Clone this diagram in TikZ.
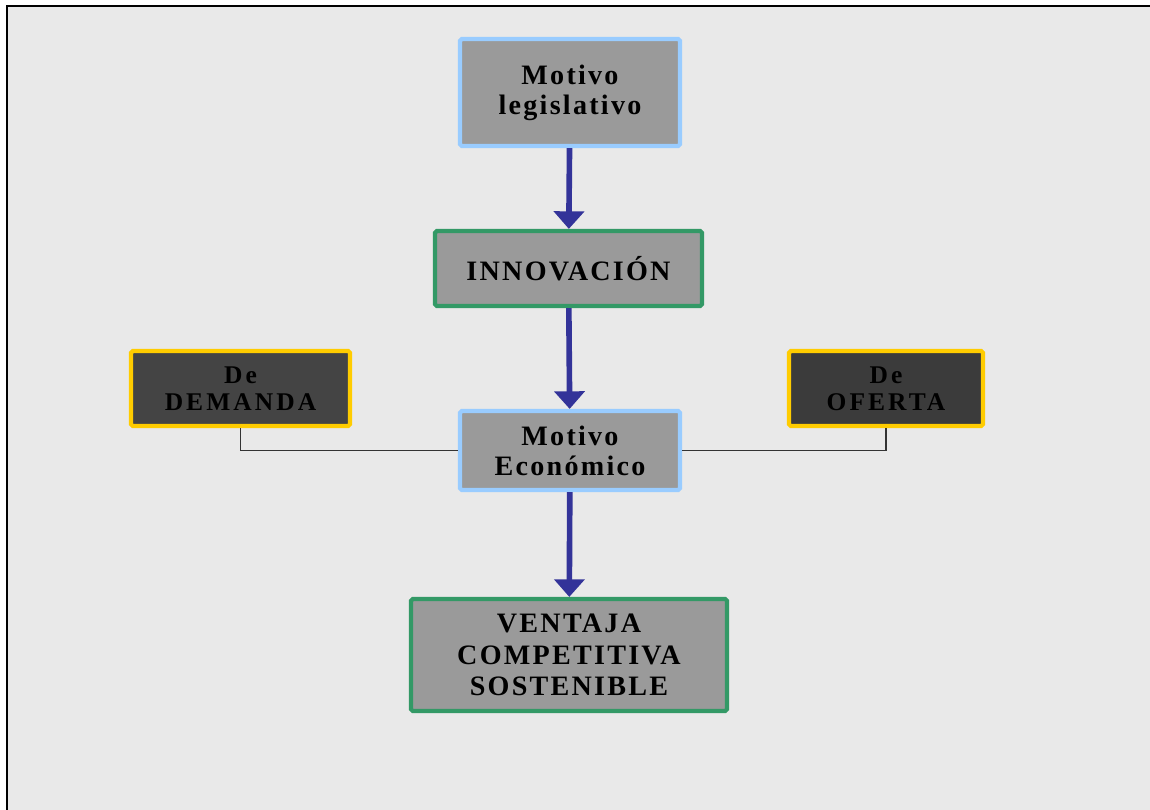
\documentclass[tikz,border=0pt]{standalone}
\usepackage{fontspec}
\setmainfont{Liberation Serif}
\newfontfamily\boxfont[LetterSpace=8]{Liberation Serif}
\newfontfamily\darkfont[LetterSpace=12]{Liberation Serif}
\definecolor{mBack}{HTML}{E9E9E9}
\definecolor{mGray}{HTML}{9A9A9A}
\definecolor{mDark}{HTML}{444444}
\definecolor{mDarker}{HTML}{3B3B3B}
\definecolor{mBlue}{HTML}{99CCFF}
\definecolor{mGreen}{HTML}{339966}
\definecolor{mYellow}{HTML}{FFCC00}
\definecolor{mArrow}{HTML}{333399}
\usetikzlibrary{arrows.meta}

\begin{document}
\begin{tikzpicture}
		[motive/.style ={rectangle, draw=mBlue, line width=2.4pt, fill=mGray, align=center, rounded corners=1pt, font=\boxfont\bfseries\fontsize{16}{17}\selectfont},
		result/.style ={rectangle, draw=mGreen, line width=2.4pt, fill=mGray, align=center, rounded corners=1pt, font=\boxfont\bfseries\fontsize{16}{18}\selectfont},
		source/.style ={rectangle, draw=mYellow, line width=2.4pt, fill=mDark, align=center, rounded corners=1pt, font=\darkfont\bfseries\fontsize{14.5}{15.5}\selectfont},
		flow/.style ={-{Triangle[width=17pt,length=10pt]}, mArrow, line width=3.2pt},
		link/.style ={black!80, line width=0.8pt}]
		\useasboundingbox (0,0) rectangle (23,-16.18);
		\clip (0,0) rectangle (23,-16.18);
		\fill[white] (0,0) rectangle (23,-16.18);
		\draw[fill=mBack, line width=1.2pt] (0.14,-0.12) rectangle (23.6,-16.8);

		\draw (11.4,-1.85) node[motive, minimum width=4.4cm, minimum height=2.14cm] (leg) {Motivo\\legislativo};
		\draw (11.37,-5.37) node[result, minimum width=5.34cm, minimum height=1.5cm] (inn) {INNOVACIÓN};
		\draw (11.4,-9.01) node[motive, minimum width=4.4cm, minimum height=1.58cm] (eco) {Motivo\\Económico};
		\draw (11.38,-13.1) node[result, minimum width=6.32cm, minimum height=2.24cm] (ven) {VENTAJA\\COMPETITIVA\\SOSTENIBLE};

		\draw (4.81,-7.77) node[source, minimum width=4.38cm, minimum height=1.5cm] (dem) {De\\DEMANDA};
		\draw (17.72,-7.77) node[source, fill=mDarker, minimum width=3.88cm, minimum height=1.5cm] (ofe) {De\\OFERTA};

		\draw (leg) edge [flow] (inn);
		\draw (inn) edge [flow] (eco);
		\draw (eco) edge [flow] (ven);
		\draw[link] (dem.south) |- (eco.west);
		\draw[link] (ofe.south) |- (eco.east);

	\end{tikzpicture}
\end{document}
